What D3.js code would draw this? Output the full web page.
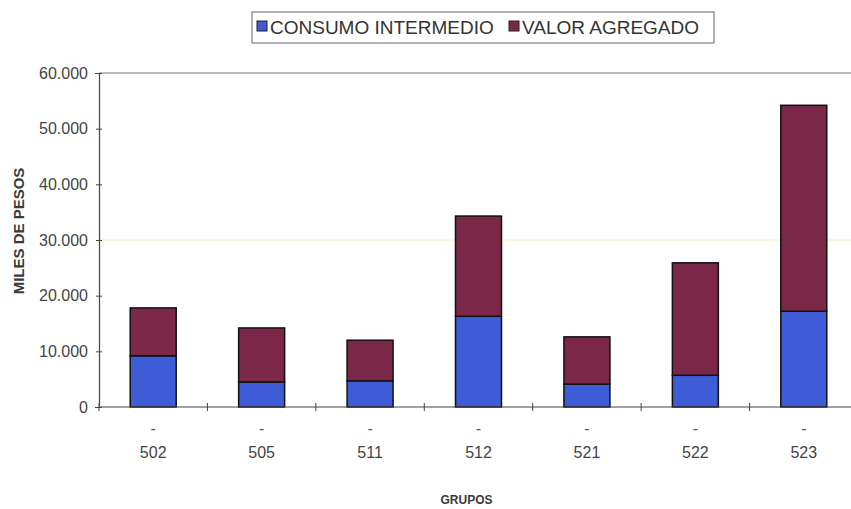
<!DOCTYPE html>
<html>
<head>
<meta charset="utf-8">
<script src="https://cdn.jsdelivr.net/npm/d3@7/dist/d3.min.js"></script>
<style>
  html, body { margin: 0; padding: 0; background: #fff; }
  svg { display: block; font-family: Arial, "Liberation Sans", sans-serif; }
</style>
</head>
<body>
<svg id="chart" width="851" height="509"></svg>
<script>
const categories = ["502", "505", "511", "512", "521", "522", "523"];
const consumoIntermedio = [9200, 4500, 4700, 16300, 4100, 5700, 17200];
const valorAgregado = [8600, 9700, 7300, 18000, 8500, 20200, 37000];
const seriesNames = ["CONSUMO INTERMEDIO", "VALOR AGREGADO"];
const seriesColors = ["#3d5cd6", "#7a2748"];
const yTicks = [0, 10000, 20000, 30000, 40000, 50000, 60000];
const yTickLabels = ["0", "10.000", "20.000", "30.000", "40.000", "50.000", "60.000"];
const xTitle = "GRUPOS";
const yTitle = "MILES DE PESOS";

const svg = d3.select("#chart");
const plotLeft = 99, plotRight = 858, plotTop = 73, plotBottom = 407;

const x = d3.scaleBand().domain(categories).range([plotLeft, plotRight]).paddingInner(0.576).paddingOuter(0.288);
const y = d3.scaleLinear().domain([0, 60000]).range([plotBottom, plotTop]);

const rows = categories.map((c, i) => ({ cat: c, consumo: consumoIntermedio[i], valor: valorAgregado[i] }));
const stacked = d3.stack().keys(["consumo", "valor"])(rows);

// top border line
svg.append("line").attr("x1", plotLeft).attr("x2", 851).attr("y1", y(60000)).attr("y2", y(60000))
  .attr("stroke", "#777").attr("stroke-width", 1);
// faint yellow line (scan artefact) at 30.000
svg.append("line").attr("x1", plotLeft).attr("x2", 851).attr("y1", y(30000)).attr("y2", y(30000))
  .attr("stroke", "#f3f0b8").attr("stroke-width", 1);

// bars
svg.append("g").selectAll("g").data(stacked).join("g")
  .attr("fill", (d, i) => seriesColors[i])
  .selectAll("rect").data(d => d).join("rect")
  .attr("x", d => x(d.data.cat))
  .attr("width", x.bandwidth())
  .attr("y", d => y(d[1]))
  .attr("height", d => y(d[0]) - y(d[1]))
  .attr("stroke", "#111")
  .attr("stroke-width", 1.5);

// y axis
const yAxis = d3.axisLeft(y).tickValues(yTicks).tickFormat((d, i) => yTickLabels[i]).tickSize(4).tickPadding(7);
const gy = svg.append("g").attr("transform", `translate(${plotLeft},0)`).call(yAxis);
gy.select(".domain").attr("stroke", "#444").attr("stroke-width", 1.2);
gy.selectAll(".tick line").attr("stroke", "#444").attr("x2", -3).attr("x1", 3);
gy.selectAll(".tick text").attr("font-size", 16).attr("fill", "#444").attr("font-family", "Arial, 'Liberation Sans', sans-serif");

// x axis
const xAxis = d3.axisBottom(x).tickSize(0).tickFormat(() => "");
const gx = svg.append("g").attr("transform", `translate(0,${plotBottom})`).call(xAxis);
gx.select(".domain").attr("stroke", "#444").attr("stroke-width", 1.2).attr("d", `M${plotLeft},0H851`);
// boundary tick marks
const boundaries = d3.range(categories.length + 1).map(i => plotLeft + i * x.step()).filter(v => v <= 851);
gx.selectAll(".bt").data(boundaries).join("line").attr("class", "bt")
  .attr("x1", d => d).attr("x2", d => d).attr("y1", -4).attr("y2", 4)
  .attr("stroke", "#444").attr("stroke-width", 1);
// category labels with dash
gx.selectAll(".tick").each(function(d) {
  const t = d3.select(this);
  t.append("text").attr("y", 27).attr("text-anchor", "middle").attr("font-size", 16).attr("fill", "#555").text("-");
  t.append("text").attr("y", 51).attr("text-anchor", "middle").attr("font-size", 16).attr("fill", "#444").text(d);
});

// axis titles
svg.append("text").attr("x", (plotLeft + plotRight) / 2 - 12).attr("y", 504).attr("text-anchor", "middle")
  .attr("font-size", 12).attr("font-weight", "bold").attr("fill", "#3a3a3a").text(xTitle);
svg.append("text").attr("transform", `translate(24,231) rotate(-90)`).attr("text-anchor", "middle")
  .attr("font-size", 15).attr("font-weight", "bold").attr("fill", "#3a3a3a").text(yTitle);

// legend
const lg = svg.append("g");
lg.append("rect").attr("x", 252).attr("y", 12).attr("width", 462).attr("height", 31)
  .attr("fill", "#fff").attr("stroke", "#666").attr("stroke-width", 1);
const legendX = [257, 509];
seriesNames.forEach((name, i) => {
  lg.append("rect").attr("x", legendX[i]).attr("y", 21).attr("width", 10).attr("height", 10)
    .attr("fill", seriesColors[i]).attr("stroke", "#222").attr("stroke-width", 1);
  lg.append("text").attr("x", legendX[i] + 13).attr("y", 34).attr("font-size", 19).attr("fill", "#333").text(name);
});
</script>
</body>
</html>
